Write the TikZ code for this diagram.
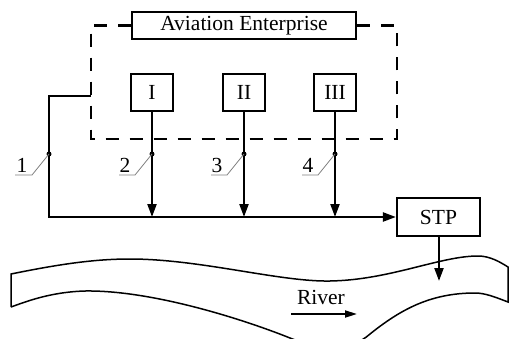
\documentclass[tikz,border=0pt]{standalone}
\usepackage{fontspec}
\setmainfont{Liberation Serif}
\usetikzlibrary{arrows.meta}
\begin{document}
\begin{tikzpicture}[x=1pt,y=-1pt,
  every node/.style={font=\fontsize{21.5}{25}\selectfont},
  blk/.style={draw,line width=2.2pt,inner sep=0pt},
  flow/.style={line width=2.2pt},
  dash box/.style={line width=2.2pt,dash pattern=on 13pt off 11pt},
  tip/.style={-{Triangle[length=13pt,width=9pt]}},
  leader/.style={gray,line width=0.8pt},
  dot/.style={fill,circle,inner sep=0pt,minimum size=5pt},
  rv/.style={line width=1.5pt}]
\useasboundingbox (0,0) rectangle (509,338);
\clip (0,0) rectangle (509,338);
% enterprise
\node[blk,minimum width=224pt,minimum height=27pt] (ae) at (244,25.5) {Aviation Enterprise};
\draw[dash box] (ae.west) -- (91,25.5) -- (91,139) -- (397,139) -- (397,25.5) -- (ae.east);
\node[blk,minimum width=42pt,minimum height=37pt] (b1) at (152,92.5) {I};
\node[blk,minimum width=42pt,minimum height=37pt] (b2) at (244,92.5) {II};
\node[blk,minimum width=42pt,minimum height=37pt] (b3) at (335,92.5) {III};
\node[blk,minimum width=83pt,minimum height=38pt] (stp) at (438.5,217) {STP};
% pipes
\coordinate (e1) at (91,96);
\coordinate (c1) at (49,96);
\coordinate (j1) at (49,217);
\draw[flow,tip] (e1) -- (c1) -- (j1) -- (stp.west);
\draw[flow,tip] (b1.south) -- (b1.south |- j1);
\draw[flow,tip] (b2.south) -- (b2.south |- j1);
\draw[flow,tip] (b3.south) -- (b3.south |- j1);
\coordinate (rv) at (439,281);
\draw[flow,tip] (stp.south -| rv) -- (rv);
% dots and leaders
\node[dot] (d1) at (49,154) {};
\node[dot] (d2) at (152,154) {};
\node[dot] (d3) at (244,154) {};
\node[dot] (d4) at (335,154) {};
\node[anchor=base] (l1) at (22,172) {1};
\node[anchor=base] (l2) at (125,172) {2};
\node[anchor=base] (l3) at (217,172) {3};
\node[anchor=base] (l4) at (308,172) {4};
\draw[leader] (15,175) -- (32,175) -- (d1.center);
\draw[leader] (119,175) -- (135,175) -- (d2.center);
\draw[leader] (211,175) -- (227,175) -- (d3.center);
\draw[leader] (302,175) -- (318,175) -- (d4.center);
% river
\draw[rv] (11,307) -- (11,274)
  .. controls (60,264) and (95,259) .. (130,259)
  .. controls (200,259) and (280,282) .. (330,281)
  .. controls (390,280) and (440,256) .. (478,256)
  .. controls (490,256) and (500,262) .. (508,267)
  -- (508,302)
  .. controls (495,297) and (485,293) .. (475,293)
  .. controls (430,293) and (400,310) .. (370,334)
  .. controls (350,352) and (320,350) .. (290,338)
  .. controls (240,318) and (150,290) .. (85,291)
  .. controls (50,292) and (25,302) .. (11,307);
\node[anchor=base] (rt) at (321,304) {River};
\coordinate (ra) at (291,314);
\coordinate (rb) at (357,314);
\draw[flow,line width=1.8pt,-{Triangle[length=12pt,width=7pt]}] (ra) -- (rb);
\end{tikzpicture}
\end{document}
